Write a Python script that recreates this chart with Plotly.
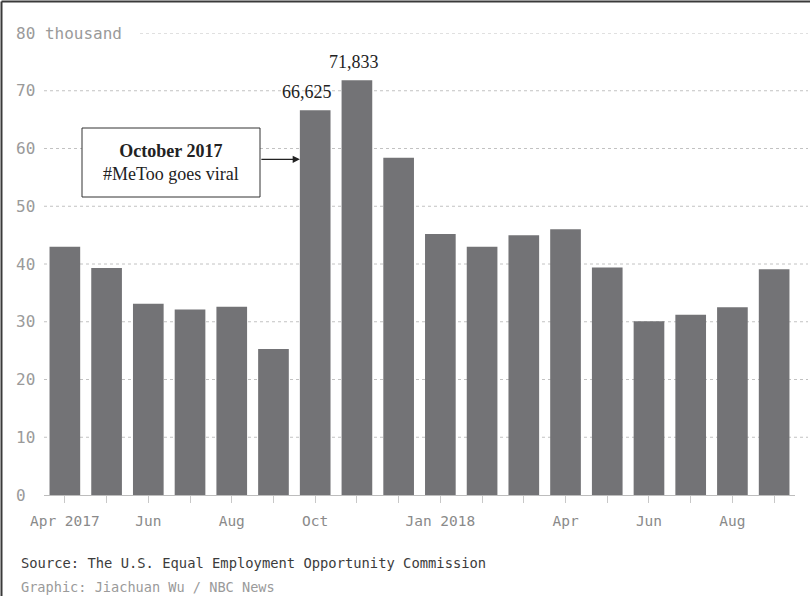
import plotly.graph_objects as go

# ---------------- data ----------------
months = ["2017-04", "2017-05", "2017-06", "2017-07", "2017-08", "2017-09",
          "2017-10", "2017-11", "2017-12", "2018-01", "2018-02", "2018-03",
          "2018-04", "2018-05", "2018-06", "2018-07", "2018-08", "2018-09"]
values_thousands = [43.0, 39.3, 33.1, 32.1, 32.6, 25.3,
                    66.625, 71.833, 58.4, 45.2, 43.0, 45.0,
                    46.0, 39.4, 30.1, 31.2, 32.5, 39.1]
x_tick_text = ["Apr 2017", "", "Jun", "", "Aug", "", "Oct", "", "",
               "Jan 2018", "", "", "Apr", "", "Jun", "", "Aug", ""]
y_tick_values = [0, 10, 20, 30, 40, 50, 60, 70, 80]
y_tick_text = ["0", "10", "20", "30", "40", "50", "60", "70", "80 thousand"]
labelled_months = ["2017-10", "2017-11"]
callout_month = "2017-10"
callout_title = "October 2017"
callout_text = "#MeToo goes viral"
source_text = "Source: The U.S. Equal Employment Opportunity Commission"
credit_text = "Graphic: Jiachuan Wu / NBC News"

# ---------------- layout geometry ----------------
WIDTH, HEIGHT = 810, 596
L, R, T, B = 44, 795, 33, 495
PW, PH = R - L, B - T
BARGAP = 0.265


def px_x(px):
    return (px - L) / PW


def px_y(py):
    return (B - py) / PH


BAR_COLOR = "#737376"
MONO = "DejaVu Sans Mono, monospace"
SERIF = "Liberation Serif, Times New Roman, serif"

fig = go.Figure(go.Bar(x=months, y=values_thousands, marker_color=BAR_COLOR,
                       marker_line_width=0, hoverinfo="skip"))

shapes = []
# dotted gridlines
for v in y_tick_values[1:]:
    x0 = px_x(140) if v == y_tick_values[-1] else 0
    shapes.append(dict(type="line", xref="paper", yref="y", x0=x0, x1=px_x(808),
                       y0=v, y1=v, line=dict(color="#c2c2c2", width=1, dash="dot"),
                       layer="below"))
# frame (left & top)
shapes.append(dict(type="line", xref="paper", yref="paper", x0=px_x(1.5), x1=px_x(1.5),
                   y0=px_y(1.5), y1=px_y(600), line=dict(color="#3a3a3a", width=2)))
shapes.append(dict(type="line", xref="paper", yref="paper", x0=px_x(1.5), x1=px_x(812),
                   y0=px_y(1.5), y1=px_y(1.5), line=dict(color="#3a3a3a", width=2)))
# callout box
shapes.append(dict(type="rect", xref="paper", yref="paper", x0=px_x(82), x1=px_x(260),
                   y0=px_y(197), y1=px_y(128), line=dict(color="#333333", width=1),
                   fillcolor="white"))

annotations = []
# y tick labels
for v, t in zip(y_tick_values, y_tick_text):
    annotations.append(dict(xref="paper", yref="y", x=px_x(14), y=v, text=t,
                            xanchor="left", yanchor="middle", showarrow=False,
                            font=dict(family=MONO, size=16, color="#9a9a9a")))
# value labels
shifts = {"2017-10": -8, "2017-11": -3}
for m in labelled_months:
    v = values_thousands[months.index(m)]
    annotations.append(dict(xref="x", yref="y", x=m, y=v, text=f"{v * 1000:,.0f}",
                            xanchor="center", yanchor="bottom", showarrow=False,
                            xshift=shifts.get(m, 0), yshift=6,
                            font=dict(family=SERIF, size=18, color="#222222")))
# callout text
annotations.append(dict(xref="paper", yref="paper", x=px_x(171), y=px_y(162.5),
                        text=f"<b>{callout_title}</b><br>{callout_text}",
                        xanchor="center", yanchor="middle", showarrow=False,
                        align="center",
                        font=dict(family=SERIF, size=18, color="#222222")))
# callout arrow
ci = months.index(callout_month)
annotations.append(dict(xref="x", yref="paper", x=ci - (1 - BARGAP) / 2, y=px_y(159.3),
                        text="", showarrow=True, arrowhead=2, arrowsize=1.2,
                        arrowwidth=1.2, arrowcolor="#222222", ax=-40, ay=0,
                        standoff=0, startstandoff=0))
# footer
annotations.append(dict(xref="paper", yref="paper", x=px_x(19), y=px_y(563),
                        text=source_text, xanchor="left", yanchor="middle",
                        showarrow=False, font=dict(family=MONO, size=13.8, color="#3c3c3c")))
annotations.append(dict(xref="paper", yref="paper", x=px_x(19), y=px_y(587),
                        text=credit_text, xanchor="left", yanchor="middle",
                        showarrow=False, font=dict(family=MONO, size=13.6, color="#9a9a9a")))

fig.update_layout(
    width=WIDTH, height=HEIGHT,
    margin=dict(l=L, r=WIDTH - R, t=T, b=HEIGHT - B, pad=0),
    paper_bgcolor="white", plot_bgcolor="white",
    bargap=BARGAP, showlegend=False,
    shapes=shapes, annotations=annotations,
    xaxis=dict(type="category", categoryorder="array", categoryarray=months,
               range=[-0.5, len(months) - 0.5], tickvals=months, ticktext=x_tick_text,
               ticks="outside", ticklen=7, tickwidth=1, tickcolor="#c8c8c8",
               ticklabelstandoff=6,
               showline=True, linecolor="#bdbdbd", linewidth=1, showgrid=False,
               zeroline=False, fixedrange=True,
               tickfont=dict(family=MONO, size=14.5, color="#8a8a8a")),
    yaxis=dict(range=[0, 80], showgrid=False, zeroline=False, showticklabels=False,
               showline=False, ticks="", fixedrange=True),
)

fig.write_html("out.html", config={"displayModeBar": False},
               post_script="document.body.style.margin='0';")
